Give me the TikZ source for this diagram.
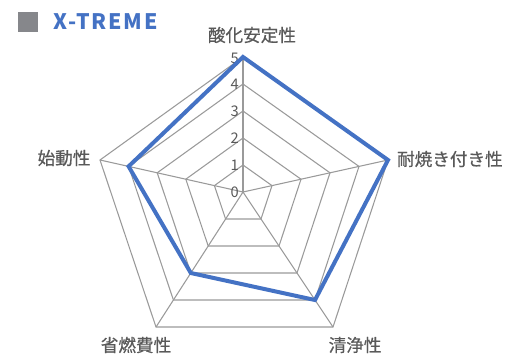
\documentclass[tikz,border=0pt]{standalone}
\usepackage{fontspec}
\newfontfamily\jpfont{Noto Sans CJK JP}
\newfontfamily\jplabel[FakeBold=0.6]{Noto Sans CJK JP}
\usetikzlibrary{calc}
\definecolor{seriesblue}{HTML}{4472C4}
\definecolor{labelgray}{HTML}{595959}
\definecolor{gridgray}{HTML}{9A9A9A}
\definecolor{markgray}{HTML}{86878B}
\tikzset{
  gridline/.style={draw=gridgray, line width=0.8pt},
  series/.style={draw=seriesblue, line width=3pt, line join=miter},
  catlabel/.style={text=labelgray, font=\jplabel\fontsize{13.2}{15}\selectfont, inner sep=0pt},
  ticklabel/.style={text=labelgray, font=\jpfont\fontsize{11}{13}\selectfont, inner sep=0pt, anchor=east},
}
\begin{document}
\begin{tikzpicture}[x=0.75pt,y=-0.75pt]
\useasboundingbox (0,0) rectangle (505,354);
% title
\node[fill=markgray, minimum size=15pt, inner sep=0pt] (mark) at (28,22){};
\node[anchor=west, inner sep=0pt, text=seriesblue, font=\jpfont\bfseries\fontsize{16}{18}\selectfont\addfontfeature{LetterSpace=8}] (title) at (53,22){X-TREME};
% axes
\coordinate (hub) at (243,192);
\coordinate (ax1) at (243,57);
\coordinate (ax2) at (388,160);
\coordinate (ax3) at (333,327);
\coordinate (ax4) at (156,327);
\coordinate (ax5) at (100,160);
\foreach \k in {1,...,5}
  \draw[gridline] ($(hub)!\k/5!(ax1)$) -- ($(hub)!\k/5!(ax2)$) -- ($(hub)!\k/5!(ax3)$)
    -- ($(hub)!\k/5!(ax4)$) -- ($(hub)!\k/5!(ax5)$) -- cycle;
\draw[gridline](hub) -- (ax1);
\draw[gridline](hub) -- (ax2);
\draw[gridline](hub) -- (ax3);
\draw[gridline](hub) -- (ax4);
\draw[gridline](hub) -- (ax5);
% scale
\node[ticklabel] (t0) at (239,192){0};
\node[ticklabel] (t1) at (239,165){1};
\node[ticklabel] (t2) at (239,138){2};
\node[ticklabel] (t3) at (239,111){3};
\node[ticklabel] (t4) at (239,84){4};
\node[ticklabel] (t5) at (239,58){5};
% data 5,5,4,3,4
\coordinate (d1) at ($(hub)!1!(ax1)$);
\coordinate (d2) at ($(hub)!1!(ax2)$);
\coordinate (d3) at ($(hub)!0.8!(ax3)$);
\coordinate (d4) at ($(hub)!0.6!(ax4)$);
\coordinate (d5) at ($(hub)!0.8!(ax5)$);
\draw[series](d1) -- (d2) -- (d3) -- (d4) -- (d5) -- cycle;
% categories
\node[catlabel] (c1) at (252,35){酸化安定性};
\node[catlabel, anchor=east] (c2) at (503,159){耐焼き付き性};
\node[catlabel] (c3) at (355,345){清浄性};
\node[catlabel] (c4) at (136,345){省燃費性};
\node[catlabel] (c5) at (64,158){始動性};
\end{tikzpicture}
\end{document}
